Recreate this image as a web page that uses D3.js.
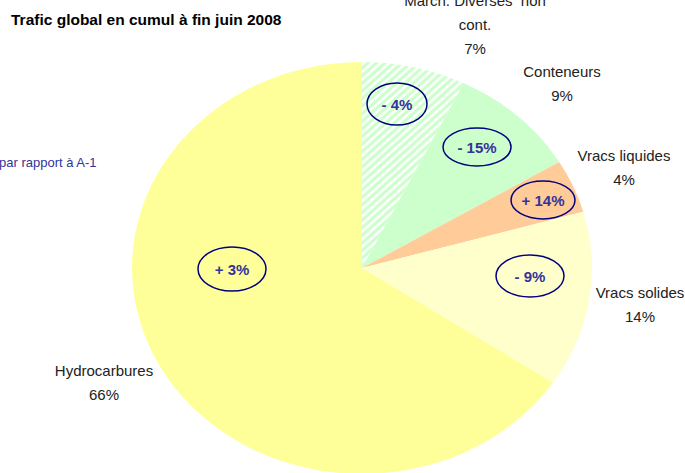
<!DOCTYPE html>
<html>
<head>
<meta charset="utf-8">
<script src="https://cdn.jsdelivr.net/npm/d3@7"></script>
<style>
  body { margin: 0; background: #fff; }
  text { font-family: "Liberation Sans", Arial, sans-serif; }
</style>
</head>
<body>
<script>
// data
var categories = ["March. Diverses  non cont.", "Conteneurs", "Vracs liquides", "Vracs solides", "Hydrocarbures"]
var nameLines = [["March. Diverses  non", "cont."], ["Conteneurs"], ["Vracs liquides"], ["Vracs solides"], ["Hydrocarbures"]]
var shares = [7.3, 9.1, 4.2, 13.8, 65.6]
var evolution = ["- 4%", "- 15%", "+ 14%", "- 9%", "+ 3%"]

var W = 685, H = 473
var cx = 362, cy = 268, rx = 230, ry = 206

// layout (offsets from pie center), not data
var labelPos = [[113, -214], [200, -167], [262, -83], [278, 54], [-258, 132]]
var bubblePos = [[35, -164, 30, 21], [115, -121, 34, 19], [181, -68, 32, 19], [168, 8, 34, 21], [-130, 1, 34, 22]]
var colors = ["url(#hatch)", "#ccffcc", "#ffcc99", "#ffffcc", "#ffff99"]

var svg = d3.select("body").append("svg")
  .attr("width", W)
  .attr("height", H)

var defs = svg.append("defs")
var pat = defs.append("pattern")
  .attr("id", "hatch")
  .attr("patternUnits", "userSpaceOnUse")
  .attr("width", 6)
  .attr("height", 6)
  .attr("patternTransform", "rotate(45)")
pat.append("rect").attr("width", 6).attr("height", 6).attr("fill", "#ccffcc")
pat.append("rect").attr("width", 2.6).attr("height", 6).attr("fill", "#ffffff")

svg.append("text")
  .attr("x", 11)
  .attr("y", 25)
  .attr("font-size", "15.5px")
  .attr("font-weight", "bold")
  .attr("fill", "#000")
  .text("Trafic global en cumul à fin juin 2008")

svg.append("text")
  .attr("x", -1)
  .attr("y", 167)
  .attr("font-size", "13px")
  .attr("fill", "#333399")
  .text("par rapport à A-1")

var total = d3.sum(shares)
var pie = d3.pie().sort(null).value(function(d){ return d })
var arcs = pie(shares)
var arc = d3.arc().innerRadius(0).outerRadius(rx)

var g = svg.append("g")
  .attr("transform", "translate(" + cx + "," + cy + ") scale(1," + (ry / rx) + ")")

g.selectAll("path.slice")
  .data(arcs)
  .enter()
  .append("path")
  .classed("slice", true)
  .attr("d", arc)
  .attr("fill", function(d, i){ return colors[i] })

// category labels
var lab = svg.append("g").attr("transform", "translate(" + cx + "," + cy + ")")
arcs.forEach(function(d, i){
  var p = labelPos[i]
  var lines = nameLines[i].concat([Math.round(shares[i] / total * 100) + "%"])
  lines.forEach(function(t, j){
    lab.append("text")
      .attr("x", p[0])
      .attr("y", p[1] - (lines.length - 1 - j) * 24)
      .attr("text-anchor", "middle")
      .attr("font-size", "15px")
      .attr("fill", "#222")
      .style("white-space", "pre")
      .text(t)
  })
})

// evolution bubbles
var bub = lab.selectAll("g.bubble")
  .data(evolution)
  .enter()
  .append("g")
  .classed("bubble", true)
  .attr("transform", function(d, i){ return "translate(" + bubblePos[i][0] + "," + bubblePos[i][1] + ")" })

bub.append("ellipse")
  .attr("rx", function(d, i){ return bubblePos[i][2] })
  .attr("ry", function(d, i){ return bubblePos[i][3] })
  .attr("fill", "none")
  .attr("stroke", "#000080")
  .attr("stroke-width", 1.5)

bub.append("text")
  .attr("text-anchor", "middle")
  .attr("y", 5.5)
  .attr("font-size", "15px")
  .attr("font-weight", "bold")
  .attr("fill", "#333399")
  .text(function(d){ return d })
</script>
</body>
</html>
